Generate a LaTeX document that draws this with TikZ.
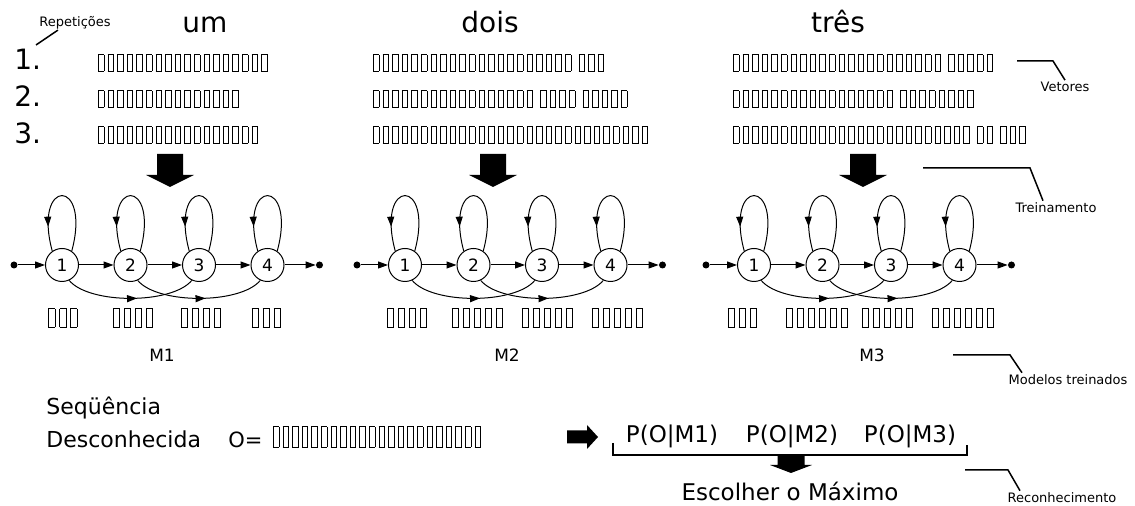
\documentclass[tikz,border=0pt]{standalone}
\usepackage{fontspec}
\setmainfont{DejaVu Sans}
\usetikzlibrary{arrows.meta,decorations.markings,calc}

% empty glyph boxes: inner width, inner height, side kern
\newcommand{\gbox}[3]{\kern#3\vbox{\hrule height .45pt\hbox{\vrule width .45pt height #2\kern#1\vrule width .45pt}\hrule height .45pt}\kern#3}
\newcommand{\vecrow}[1]{\foreach \k in {1,...,#1}{\gbox{2.3pt}{8.1pt}{.8pt}}}
\newcommand{\obsrow}[1]{\foreach \k in {1,...,#1}{\gbox{2.6pt}{9.1pt}{1pt}}}
\newcommand{\seqrow}[1]{\foreach \k in {1,...,#1}{\gbox{2.3pt}{10.1pt}{.8pt}}}
\newcommand{\gap}{\kern2pt}

% left-to-right model with four states, #1 = prefix, #2 = x of state 1
\newcommand{\hmmodel}[2]{%
  \node[dot] (#1in) at (#2-48,265) {};
  \node[state] (#1s1) at (#2,265) {1};
  \node[state] (#1s2) at (#2+68.5,265) {2};
  \node[state] (#1s3) at (#2+137,265) {3};
  \node[state] (#1s4) at (#2+205.5,265) {4};
  \node[dot] (#1out) at (#2+257.5,265) {};
  \draw[edge] (#1in) -- (#1s1);
  \draw[edge] (#1s1) -- (#1s2);
  \draw[edge] (#1s2) -- (#1s3);
  \draw[edge] (#1s3) -- (#1s4);
  \draw[edge] (#1s4) -- (#1out);
  \foreach \s in {1,...,4}{\draw[selfloop] (#1s\s.55) .. controls +(20,-74) and +(-20,-74) .. (#1s\s.125);}
  \draw[skip] (#1s1.-65) .. controls +(20,24) and +(-20,24) .. (#1s3.-115);
  \draw[skip] (#1s2.-65) .. controls +(20,24) and +(-20,24) .. (#1s4.-115);
}

\tikzset{
  tip/.style={-{Triangle[length=5pt,width=3.5pt]}},
  edge/.style={draw, line width=.5pt, tip},
  state/.style={circle, draw, line width=.5pt, minimum size=16.5pt, inner sep=0pt, font=\fontsize{8.5}{10}\selectfont},
  dot/.style={circle, fill, minimum size=3.5pt, inner sep=0pt},
  selfloop/.style={line width=.5pt, postaction={decorate}, decoration={markings,
    mark=at position .8 with {\arrow{Triangle[length=5pt,width=3.5pt]}}}},
  skip/.style={line width=.5pt, postaction={decorate}, decoration={markings,
    mark=at position .55 with {\arrow{Triangle[length=5pt,width=3.5pt]}}}},
  title/.style={inner sep=0pt, anchor=base, font=\fontsize{14}{16}\selectfont},
  body/.style={inner sep=0pt, anchor=base west, font=\fontsize{11}{13}\selectfont},
  prob/.style={inner sep=0pt, anchor=base, font=\fontsize{11.5}{13}\selectfont},
  model/.style={inner sep=0pt, anchor=base, font=\fontsize{8.5}{10}\selectfont},
  note/.style={inner sep=1pt, anchor=base, font=\fontsize{6.5}{8}\selectfont},
  glyphs/.style={inner sep=0pt, anchor=west},
  leader/.style={line width=.75pt},
  pics/blockdown/.style n args={4}{code={
    \fill (-#1/2,0) -- (#1/2,0) -- (#1/2,#2) -- (#3/2,#2) -- (0,#2+#4)
      -- (-#3/2,#2) -- (-#1/2,#2) -- cycle;}},
  pics/blockright/.style n args={4}{code={
    \fill (0,-#1/2) -- (#2,-#1/2) -- (#2,-#3/2) -- (#2+#4,0)
      -- (#2,#3/2) -- (#2,#1/2) -- (0,#1/2) -- cycle;}},
}

\begin{document}
\begin{tikzpicture}[x=.5pt, y=-.5pt]
  \useasboundingbox (0,0) rectangle (1135,506);

  % words and their training vectors
  \node[title] (um) at (205,33) {um};
  \node[title] (dois) at (490,33) {dois};
  \node[title] (tres) at (838,33) {três};

  \node[title, anchor=base west] (rep1) at (14,70) {1.};
  \node[title, anchor=base west] (rep2) at (14,107) {2.};
  \node[title, anchor=base west] (rep3) at (14,144) {3.};

  \node[glyphs] (um1) at (96,63) {\vecrow{18}};
  \node[glyphs] (um2) at (96,99) {\vecrow{15}};
  \node[glyphs] (um3) at (96,135) {\vecrow{17}};

  \node[glyphs] (dois1) at (371,63) {\vecrow{21}\gap\vecrow{3}};
  \node[glyphs] (dois2) at (371,99) {\vecrow{17}\gap\vecrow{4}\gap\vecrow{5}};
  \node[glyphs] (dois3) at (371,135) {\vecrow{29}};

  \node[glyphs] (tres1) at (731,63) {\vecrow{22}\gap\vecrow{5}};
  \node[glyphs] (tres2) at (731,99) {\vecrow{17}\gap\vecrow{8}};
  \node[glyphs] (tres3) at (731,135) {\vecrow{25}\gap\vecrow{2}\gap\vecrow{3}};

  % training
  \pic (trainUm) at (170,154) {blockdown={26}{21}{48}{12}};
  \pic (trainDois) at (493,154) {blockdown={26}{21}{48}{12}};
  \pic (trainTres) at (863,154) {blockdown={26}{21}{48}{12}};

  \hmmodel{um}{62}
  \hmmodel{dois}{405}
  \hmmodel{tres}{754}

  % observations per state
  \node[glyphs, anchor=center] (ob11) at (63,318) {\obsrow{3}};
  \node[glyphs, anchor=center] (ob12) at (133,318) {\obsrow{4}};
  \node[glyphs, anchor=center] (ob13) at (201,318) {\obsrow{4}};
  \node[glyphs, anchor=center] (ob14) at (266,318) {\obsrow{3}};
  \node[glyphs, anchor=center] (ob21) at (407,318) {\obsrow{4}};
  \node[glyphs, anchor=center] (ob22) at (477,318) {\obsrow{5}};
  \node[glyphs, anchor=center] (ob23) at (547,318) {\obsrow{5}};
  \node[glyphs, anchor=center] (ob24) at (617,318) {\obsrow{5}};
  \node[glyphs, anchor=center] (ob31) at (742,318) {\obsrow{3}};
  \node[glyphs, anchor=center] (ob32) at (817,318) {\obsrow{6}};
  \node[glyphs, anchor=center] (ob33) at (887,318) {\obsrow{5}};
  \node[glyphs, anchor=center] (ob34) at (963,318) {\obsrow{6}};

  \node[model] (m1) at (162,362) {M1};
  \node[model] (m2) at (507,362) {M2};
  \node[model] (m3) at (872,362) {M3};

  % recognition
  \node[body] (seq) at (46,415) {Seqüência};
  \node[body] (desc) at (46,448) {Desconhecida};
  \node[body, font=\fontsize{10.5}{12}\selectfont] (obs) at (228,448) {O=};
  \node[glyphs, anchor=base west] (obsrow) at (271,448) {\seqrow{22}};
  \pic (toProb) at (567,437) {blockright={13}{20}{24}{11}};

  \node[prob] (pm1) at (672,443) {P(O|M1)};
  \node[prob] (pm2) at (792,443) {P(O|M2)};
  \node[prob] (pm3) at (910,443) {P(O|M3)};
  \draw[line width=1pt] (613,443) -- (613,455) -- (967,455) -- (967,445);
  \pic (toMax) at (791,456) {blockdown={27}{9}{42}{8}};
  \node[prob] (max) at (790,501) {Escolher o Máximo};

  % side notes
  \node[note] (repet) at (75,27) {Repetições};
  \node[note] (vet) at (1065,92) {Vetores};
  \node[note] (trein) at (1056,213) {Treinamento};
  \node[note] (model) at (1068,385) {Modelos treinados};
  \node[note] (recon) at (1062,503) {Reconhecimento};

  \coordinate (repA) at (36,45);
  \coordinate (vetA) at (1017,61);
  \coordinate (treinA) at (923,168);
  \coordinate (modelA) at (953,355);
  \coordinate (reconA) at (965,470);
  \draw[leader] ($(repet.south west)+(21,-2)$) -- (repA);
  \draw[leader] (vetA) -- ++(36,0) -- (vet.north);
  \draw[leader] (treinA) -- ++(107,0) -- ($(trein.north)+(-13,0)$);
  \draw[leader] (modelA) -- ++(57,0) -- ($(model.north)+(-46,0)$);
  \draw[leader] (reconA) -- ++(43,0) -- ($(recon.north)+(-42,0)$);
\end{tikzpicture}
\end{document}
